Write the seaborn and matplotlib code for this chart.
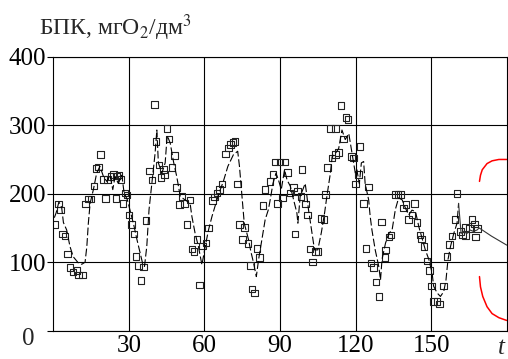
import numpy as np
import pandas as pd
import matplotlib
matplotlib.use("Agg")
import matplotlib.pyplot as plt
import seaborn as sns

# observed BOD values (squares)
obs_t = [0.7, 2.0, 2.9, 3.7, 4.6, 5.6, 6.7, 7.8, 9.3, 10.0, 11.6, 12.8, 14.0, 15.0, 16.1,
         17.0, 18.0, 18.8, 20.0, 20.8, 21.5, 22.8, 23.9, 24.9, 25.0, 26.1, 26.8, 27.7, 28.5,
         29.2, 30.1, 31.0, 32.1, 32.9, 33.8, 34.9, 35.8, 36.8, 38.2, 39.1, 40.2, 40.8, 42.0,
         42.8, 43.7, 44.1, 45.1, 46.0, 47.1, 48.1, 49.0, 50.0, 51.0, 52.1, 53.0, 54.3, 55.0,
         55.9, 57.0, 58.0, 59.3, 60.7, 61.6, 63.2, 64.0, 64.9, 65.9, 66.9, 68.4, 69.5, 70.4,
         71.3, 72.2, 73.2, 73.9, 75.1, 75.9, 77.2, 78.2, 78.9, 79.8, 80.8, 81.9, 83.2, 84.1,
         86.1, 87.2, 88.0, 89.0, 90.0, 91.0, 92.0, 93.0, 94.0, 95.3, 96.0, 97.0, 98.3, 98.8,
         100.1, 100.9, 102.0, 102.9, 104.0, 105.0, 106.3, 107.4, 108.0, 108.9, 110.0, 110.7,
         112.0, 112.1, 113.3, 114.2, 115.3, 116.2, 117.0, 118.3, 119.2, 119.9, 121.2, 121.8,
         123.2, 124.2, 125.2, 126.1, 127.2, 128.2, 129.4, 130.2, 131.6, 131.9, 133.2, 134.1,
         135.8, 136.9, 137.8, 139.1, 140.0, 141.1, 142.4, 143.3, 144.4, 145.5, 146.1, 147.1,
         148.4, 149.3, 150.1, 151.0, 152.4, 153.4, 155.0, 156.4, 157.3, 158.3, 159.4, 160.3,
         161.6, 162.5, 163.6, 163.7, 165.2, 166.3, 167.2, 167.6, 168.5]
obs_y = [155, 185, 176, 141, 138, 112, 92, 86, 88, 81, 81, 185, 192, 192, 211,
         237, 239, 257, 221, 193, 221, 225, 228, 193, 226, 227, 221, 186, 201,
         198, 169, 155, 141, 108, 95, 73, 93, 161, 233, 220, 330, 276, 242,
         224, 235, 228, 295, 280, 238, 256, 209, 184, 196, 186, 155, 191, 119,
         116, 133, 67, 124, 128, 150, 190, 195, 201, 206, 214, 258, 267, 272,
         275, 276, 214, 155, 133, 151, 127, 95, 61, 55, 120, 107, 183, 206,
         218, 228, 246, 186, 246, 194, 246, 231, 201, 209, 141, 203, 196, 235,
         185, 169, 119, 100, 116, 116, 164, 162, 199, 238, 295, 252,
         257, 295, 260, 329, 280, 311, 308, 254, 252, 214, 228, 269,
         186, 120, 210, 99, 92, 71, 50, 159, 107, 118, 137, 140,
         199, 199, 199, 179, 184, 162, 169, 186, 158, 140, 134, 123,
         102, 88, 65, 43, 43, 39, 65, 108, 126, 138, 162, 200,
         145, 140, 139, 151, 149, 162, 156, 137, 149]

# model (dashed)
model_t = [0.4, 1.1, 2.2, 3.3, 4.0, 5.3, 6.6, 7.9, 9.9, 11.3, 12.6, 13.3, 13.9, 14.6, 15.9,
           17.2, 18.5, 19.9, 21.2, 22.5, 23.6, 24.5, 25.8, 27.2, 28.1, 29.4, 30.5, 31.9,
           33.2, 34.5, 35.4, 36.2, 37.1, 38.0, 39.1, 40.4, 41.1, 41.7, 43.1, 44.4, 45.2,
           46.4, 47.7, 49.0, 50.4, 52.3, 54.3, 55.0, 56.3, 57.6, 59.0, 60.3, 61.6, 63.0,
           65.6, 67.5, 69.3, 71.5, 73.2, 73.9, 74.9, 75.8, 77.5, 78.4, 79.5, 80.6, 81.5,
           82.8, 84.1, 85.4, 86.1, 87.2, 88.4, 89.4, 90.5, 91.8, 92.8, 94.1, 95.4, 96.7,
           97.1, 98.0, 100.0, 100.7, 101.3, 102.7, 103.7, 105.0, 106.4, 107.7, 108.6, 110.0,
           110.7, 112.0, 113.3, 114.6, 115.9, 117.3, 118.6, 119.9, 120.5, 121.5, 122.3,
           123.2, 123.8, 125.2, 125.8, 126.5, 127.8, 129.2, 129.9, 130.5, 131.9, 133.2,
           134.5, 135.8, 137.1, 138.5, 139.8, 141.1, 142.4, 143.8, 145.1, 146.4, 147.7,
           149.1, 150.4, 151.0, 152.4, 153.7, 155.0, 155.9, 156.7, 157.7, 159.0, 160.3, 160.9]
model_y = [165, 172, 188, 180, 158, 147, 123, 108, 99, 97, 100, 123, 157, 186, 206,
           230, 240, 225, 218, 227, 206, 225, 215, 227, 201, 191, 175, 155,
           133, 113, 99, 94, 123, 177, 215, 259, 293, 245, 230, 245, 285,
           274, 247, 225, 196, 191, 186, 167, 142, 123, 96, 123, 147, 167,
           199, 218, 240, 257, 262, 240, 196, 157, 133, 116, 99, 79, 104,
           133, 162, 177, 191, 215, 230, 220, 206, 235, 220, 211, 191, 172,
           157, 196, 215, 196, 177, 143, 118, 118, 143, 172, 196, 230,
           254, 259, 266, 293, 279, 288, 259, 230, 235, 215, 245,
           247, 215, 191, 167, 147, 118, 94, 74, 104, 128, 142,
           147, 177, 194, 191, 179, 169, 176, 174, 152, 135, 118,
           104, 84, 65, 55, 50, 57, 74, 104, 123, 142, 157, 186]

# model tail + forecast (solid)
fc_t = [160.9, 161.9, 162.8, 164.2, 165.5, 166.8, 168.2, 169.1, 174.0, 180.0]
fc_y = [186, 142, 145, 142, 147, 145, 147, 150, 138, 125]

# confidence bounds (red)
up_t = [169.2, 169.6, 170.3, 172.2, 174.2, 176.9, 180.0]
up_y = [218, 227, 235, 244, 248, 250, 250]
lo_t = [169.2, 169.6, 170.5, 172.2, 174.2, 176.9, 180.0]
lo_y = [79, 64, 50, 35, 25, 19, 15]

sns.set_theme(style="white")
plt.rcParams['font.family'] = ['Liberation Serif', 'DejaVu Serif']
plt.rcParams['mathtext.fontset'] = 'stix'

fig = plt.figure(figsize=(5.08, 3.59), dpi=100)
ax = fig.add_axes([0.105, 0.0788, 0.8924, 0.7632])

sns.lineplot(x=model_t, y=model_y, ax=ax, sort=False, estimator=None,
             color='black', lw=0.8, linestyle=(0, (7, 2.5)))
sns.lineplot(x=fc_t, y=fc_y, ax=ax, sort=False, estimator=None, color='#333333', lw=0.8)
sns.lineplot(x=up_t, y=up_y, ax=ax, sort=False, estimator=None, color='red', lw=1.1)
sns.lineplot(x=lo_t, y=lo_y, ax=ax, sort=False, estimator=None, color='red', lw=1.1)
sns.scatterplot(x=obs_t, y=obs_y, ax=ax, marker='s', s=22, facecolor='none',
                edgecolor='#222222', linewidth=0.8)

ax.set_xlim(0, 180)
ax.set_ylim(0, 400)
ax.set_xticks([30, 60, 90, 120, 150])
ax.set_yticks([0, 100, 200, 300, 400])
ax.set_yticklabels(['', '100', '200', '300', '400'])
ax.grid(True, color='black', lw=0.8)
for s in ax.spines.values():
    s.set_color('black')
    s.set_linewidth(0.8)
ax.tick_params(axis='y', length=4, width=0.8, color='black', direction='out',
               pad=1, labelsize=18, labelcolor='black', left=True)
ax.tick_params(axis='x', length=0, pad=3, labelsize=18, labelcolor='black')
ax.set_xlabel('')
ax.set_ylabel('')

fig.text(0.077, 0.902, 'БПК, мгO$_2$/дм$^3$', fontsize=17, va='baseline', ha='left')
fig.text(0.055, 0.057, '0', fontsize=18, ha='center', va='center')
fig.text(0.987, 0.031, 't', fontsize=18, style='italic', ha='center', va='center')

fig.savefig('out.png', dpi=100)
